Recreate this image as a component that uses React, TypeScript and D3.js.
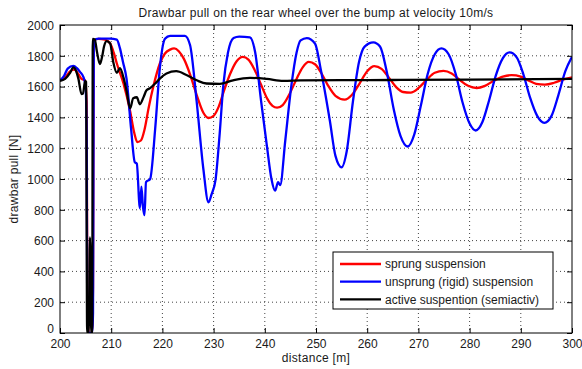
import React, { useRef, useEffect } from 'react';
import * as d3 from 'd3';

type Pt = [number, number];

// distance [m], drawbar pull [N]
const sprung: Pt[] = [
  [200, 1640], [201, 1660], [202, 1700], [202.8, 1710], [203.6, 1680], [204.2, 1650], [204.9, 1640],
  [205.2, 1500], [205.35, 200], [205.6, 0], [206.2, 0], [206.45, 300], [206.6, 1900], [207.5, 1910],
  [208.8, 1905], [209.8, 1880], [210.5, 1820], [211.1, 1750], [212.4, 1620], [213.7, 1440], [214.5, 1300],
  [215.1, 1240], [215.8, 1250], [216.5, 1320], [217.3, 1460], [218.3, 1610], [219.5, 1750], [220.5, 1815],
  [221.5, 1840], [222.3, 1848], [223.2, 1830], [224.2, 1780], [225.4, 1680], [226.7, 1545], [228, 1430],
  [229, 1396], [230, 1410], [231, 1470], [232, 1570], [233.2, 1680], [234.5, 1765], [235.7, 1793],
  [236.8, 1775], [238, 1710], [239.3, 1610], [240.5, 1520], [241.5, 1475], [242.4, 1463], [243.5, 1480],
  [244.8, 1550], [246.2, 1650], [247.4, 1725], [248.6, 1760], [249.8, 1745], [251, 1690], [252.3, 1610],
  [253.8, 1540], [255.6, 1515], [257, 1545], [258.5, 1620], [260, 1700], [261.4, 1733], [262.8, 1715],
  [264.2, 1660], [265.7, 1595], [267, 1565], [268.5, 1561], [270, 1590], [271.5, 1640], [273.2, 1690],
  [274.9, 1702], [276.5, 1685], [278, 1645], [279.7, 1605], [281.4, 1591], [283, 1605], [284.8, 1640],
  [286.5, 1665], [288.2, 1674], [290, 1665], [291.5, 1640], [293, 1618], [294.7, 1613], [296.5, 1625],
  [298.2, 1645], [300, 1660],
];

const unsprung: Pt[] = [
  [200, 1640], [200.8, 1670], [201.5, 1717], [202.6, 1735], [203.3, 1720], [203.9, 1696], [204.6, 1660],
  [205.0, 1600], [205.2, 1300], [205.3, 320], [205.5, 0], [205.9, 0], [206.3, 0], [206.45, 130],
  [206.6, 1900], [207.5, 1912], [209.8, 1912], [211.1, 1905], [211.7, 1850], [212.3, 1760], [213, 1650],
  [213.9, 1320], [214.6, 1110], [215, 1100], [215.6, 810], [215.9, 950], [216.2, 820], [216.5, 765],
  [216.8, 980], [217.6, 1000], [218.6, 1330], [219.5, 1720], [220.5, 1910], [221.5, 1930], [224.4, 1930],
  [225.4, 1870], [226.7, 1500], [228, 1065], [229, 848], [229.6, 900], [230.4, 1000], [231.2, 1300],
  [231.9, 1610], [232.8, 1820], [233.9, 1915], [235, 1925], [237.1, 1920], [238.1, 1826], [239.3, 1500],
  [240.4, 1217], [241.3, 1000], [242, 924], [242.6, 980], [243, 960], [244, 1250], [245.2, 1609],
  [246.2, 1820], [247, 1900], [248.2, 1915], [249.8, 1880], [251, 1700], [252.7, 1380], [253.8, 1150],
  [255, 1076], [256, 1180], [257.2, 1500], [258.4, 1760], [259.5, 1860], [261.2, 1887], [262.5, 1860],
  [263.8, 1700], [265.2, 1450], [266.5, 1280], [267.9, 1211], [269.2, 1290], [270.5, 1480], [271.8, 1680],
  [273.2, 1810], [274.5, 1848], [275.9, 1810], [277.3, 1680], [278.6, 1500], [280, 1360], [281.2, 1315],
  [282.5, 1370], [283.8, 1510], [285.1, 1670], [286.5, 1785], [287.8, 1822], [289.2, 1790], [290.5, 1680],
  [291.8, 1530], [293.2, 1410], [294.6, 1365], [296, 1410], [297.3, 1540], [298.7, 1700], [300, 1793],
];

const active: Pt[] = [
  [200, 1637], [201, 1650], [202, 1690], [202.6, 1725], [203.1, 1705], [203.6, 1650], [204.2, 1552],
  [204.5, 1555], [204.9, 1637], [205.1, 1630], [205.3, 0], [205.6, 0], [205.85, 620], [206.1, 0],
  [206.3, 0], [206.4, 1910], [206.8, 1905], [207.2, 1830], [207.8, 1746], [208.2, 1790], [208.6, 1860],
  [209.1, 1895], [209.8, 1880], [210.4, 1760], [211.1, 1690], [211.7, 1720], [212.4, 1658], [213, 1572],
  [213.7, 1460], [214.3, 1525], [215, 1531], [215.6, 1485], [216.3, 1530], [216.9, 1576], [217.6, 1590],
  [218.6, 1620], [219.5, 1652], [220.8, 1685], [222.7, 1700], [224.7, 1675], [226.7, 1641], [228.6, 1620],
  [231.2, 1618], [233.8, 1641], [237.1, 1657], [240.4, 1650], [243.6, 1637], [247, 1640], [255, 1642],
  [265, 1643], [280, 1645], [300, 1650],
];

const xTicks = [200, 210, 220, 230, 240, 250, 260, 270, 280, 290, 300];
const yTicks = [0, 200, 400, 600, 800, 1000, 1200, 1400, 1600, 1800, 2000];

const seriesNames = [
  'sprung suspension',
  'unsprung (rigid) suspension',
  'active suspention (semiactiv)',
];
const seriesColors = ['#ff0000', '#0000ff', '#000000'];

const width = 582;
const height = 369;

const App = () => {
  const svgRef = useRef<SVGSVGElement>(null);

  useEffect(() => {
    const svg = d3.select(svgRef.current);
    svg.selectAll('*').remove();

    const margin = { top: 25, right: 10, bottom: 36, left: 60 };
    const innerWidth = width - margin.left - margin.right;
    const innerHeight = height - margin.top - margin.bottom;
    const font = 'Arial, "Liberation Sans", sans-serif';
    const textColor = '#1a1a1a';

    const x = d3.scaleLinear().domain([200, 300]).range([0, innerWidth]);
    const y = d3.scaleLinear().domain([0, 2000]).range([innerHeight, 0]);

    svg.append('rect').attr('width', width).attr('height', height).attr('fill', '#fff');

    const g = svg.append('g').attr('transform', `translate(${margin.left},${margin.top})`);

    // grid
    g.append('g')
      .selectAll('line')
      .data(xTicks.slice(1, -1))
      .enter().append('line')
      .attr('x1', d => x(d)).attr('x2', d => x(d))
      .attr('y1', 0).attr('y2', innerHeight)
      .attr('stroke', '#444').attr('stroke-width', 1).attr('stroke-dasharray', '1,3');
    g.append('g')
      .selectAll('line')
      .data(yTicks.slice(1, -1))
      .enter().append('line')
      .attr('x1', 0).attr('x2', innerWidth)
      .attr('y1', d => y(d)).attr('y2', d => y(d))
      .attr('stroke', '#444').attr('stroke-width', 1).attr('stroke-dasharray', '1,3');

    // lines
    const clip = svg.append('clipPath').attr('id', 'plotclip');
    clip.append('rect').attr('width', innerWidth).attr('height', innerHeight);

    const line = d3.line<Pt>()
      .x(d => x(d[0]))
      .y(d => y(d[1]))
      .curve(d3.curveMonotoneX);

    const series = [sprung, unsprung, active];
    g.append('g')
      .attr('clip-path', 'url(#plotclip)')
      .selectAll('path')
      .data(series)
      .enter().append('path')
      .attr('d', d => line(d))
      .attr('fill', 'none')
      .attr('stroke', (d, i) => seriesColors[i])
      .attr('stroke-width', 2.3)
      .attr('stroke-linejoin', 'round');

    // axes, ticks inside (MATLAB style)
    const xAxis = d3.axisBottom(x).tickValues(xTicks).tickSize(-5).tickPadding(6).tickFormat(d3.format('d'));
    const yAxis = d3.axisLeft(y).tickValues(yTicks).tickSize(-5).tickPadding(6).tickFormat(d3.format('d'));

    const xg = g.append('g').attr('transform', `translate(0,${innerHeight})`).call(xAxis);
    const yg = g.append('g').call(yAxis);
    g.append('g').call(d3.axisTop(x).tickValues(xTicks).tickSize(-5).tickFormat(() => ''));
    g.append('g').attr('transform', `translate(${innerWidth},0)`)
      .call(d3.axisRight(y).tickValues(yTicks).tickSize(-5).tickFormat(() => ''));

    svg.selectAll('.domain').remove();
    svg.selectAll('.tick line').attr('stroke', '#000');
    [xg, yg].forEach(a => a.selectAll('text')
      .attr('font-family', font).attr('font-size', 12).attr('fill', textColor));
    // MATLAB lifts the bottom "0" so it sits above the x labels
    yg.selectAll('text').attr('dy', (d: any) => (d === 0 ? '-0.05em' : '0.36em'));

    g.append('rect')
      .attr('width', innerWidth).attr('height', innerHeight)
      .attr('fill', 'none').attr('stroke', '#000').attr('stroke-width', 1);

    // title and labels
    svg.append('text')
      .attr('x', margin.left + innerWidth / 2).attr('y', 17)
      .attr('text-anchor', 'middle')
      .attr('font-family', font).attr('font-size', 12).attr('letter-spacing', 0.3)
      .attr('fill', textColor)
      .text('Drawbar pull on the rear wheel over the bump at velocity 10m/s');

    svg.append('text')
      .attr('x', margin.left + innerWidth / 2).attr('y', 362)
      .attr('text-anchor', 'middle')
      .attr('font-family', font).attr('font-size', 12).attr('letter-spacing', 0.3)
      .attr('fill', textColor)
      .text('distance [m]');

    svg.append('text')
      .attr('transform', `translate(18,${margin.top + innerHeight / 2}) rotate(-90)`)
      .attr('text-anchor', 'middle')
      .attr('font-family', font).attr('font-size', 12).attr('letter-spacing', 0.3)
      .attr('fill', textColor)
      .text('drawbar pull [N]');

    // legend
    const legend = svg.append('g').attr('transform', 'translate(333,252)');
    legend.append('rect')
      .attr('width', 220).attr('height', 57)
      .attr('fill', '#fff').attr('stroke', '#000').attr('stroke-width', 1);
    seriesNames.forEach((name, i) => {
      const ry = 12 + i * 17.7;
      legend.append('line')
        .attr('x1', 7).attr('x2', 48).attr('y1', ry).attr('y2', ry)
        .attr('stroke', seriesColors[i]).attr('stroke-width', 2.3);
      legend.append('text')
        .attr('x', 52).attr('y', ry).attr('dy', '0.36em')
        .attr('font-family', font).attr('font-size', 12)
        .attr('fill', textColor)
        .text(name);
    });
  }, []);

  return (
    <svg ref={svgRef} width={width} height={height}
      style={{ position: 'absolute', left: 0, top: 0 }} />
  );
};

export default App;
